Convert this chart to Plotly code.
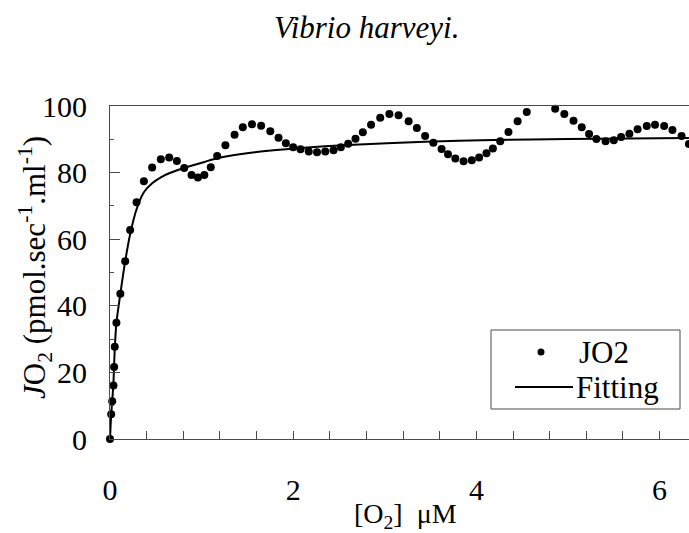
import plotly.graph_objects as go

# Oxygen flux of Vibrio harveyi versus oxygen concentration
o2_um = [0.00, 0.013, 0.024, 0.038, 0.045, 0.052, 0.07, 0.113, 0.166, 0.22,
         0.29, 0.37, 0.46, 0.555, 0.646, 0.73, 0.81, 0.89, 0.96, 1.03,
         1.10, 1.17, 1.26, 1.36, 1.45, 1.55, 1.65, 1.75, 1.84, 1.92,
         2.00, 2.08, 2.17, 2.26, 2.35, 2.44, 2.52, 2.60, 2.68, 2.76,
         2.85, 2.95, 3.05, 3.15, 3.26, 3.35, 3.44, 3.53, 3.62, 3.69,
         3.77, 3.86, 3.95, 4.03, 4.11, 4.18, 4.26, 4.35, 4.45, 4.55,
         4.86, 4.96, 5.06, 5.15, 5.23, 5.31, 5.41, 5.50, 5.58, 5.67,
         5.76, 5.86, 5.95, 6.05, 6.14, 6.24, 6.32]
jo2 = [0, 7.4, 11.3, 16.1, 21.6, 27.7, 34.9, 43.6, 53.4, 62.8,
       71.1, 77.4, 81.5, 84.0, 84.5, 83.5, 81.4, 79.3, 78.5, 79.3,
       81.6, 85.0, 88.2, 91.4, 93.6, 94.5, 94.1, 92.4, 90.5, 88.8,
       87.6, 87.0, 86.3, 86.1, 86.3, 86.7, 87.6, 88.7, 90.2, 92.1,
       94.4, 96.5, 97.6, 97.2, 95.4, 93.4, 91.0, 89.0, 87.1, 85.5,
       84.2, 83.4, 83.7, 84.5, 85.8, 87.2, 89.4, 92.2, 95.4, 98.2,
       99.2, 97.6, 95.6, 93.6, 91.6, 90.1, 89.4, 89.7, 90.7, 91.7,
       93.0, 94.0, 94.4, 94.0, 92.8, 91.0, 88.6]

# Fitted hyperbolic curve, sampled along its length
fit_o2 = [0, 0.013, 0.024, 0.038, 0.05, 0.07, 0.113, 0.166, 0.22, 0.29,
          0.37, 0.46, 0.555, 0.646, 0.81, 1.03, 1.17, 1.58, 2.08, 2.6,
          3.44, 4.18, 5.0, 6.32]
fit_jo2 = [0, 7.4, 11.3, 17.0, 26.0, 34.9, 43.6, 53.4, 61.5, 69.0,
           74.1, 76.8, 78.6, 79.8, 81.4, 83.2, 84.3, 86.1, 87.4, 88.3,
           89.3, 89.8, 90.1, 90.4]

x_ticks = [0, 2, 4, 6]
y_ticks = [0, 20, 40, 60, 80, 100]

SERIF = '"Liberation Serif", serif'
AX = "#4a4a4a"

# plot-area pixel geometry used to place text and the legend box
W, H = 689, 533
L, R, T, B = 110, 0, 106, 94
PW, PH = W - L - R, H - T - B


def px(x):
    return (x - L) / PW


def py(y):
    return (H - B - y) / PH


fig = go.Figure()
fig.add_trace(go.Scatter(
    x=fit_o2, y=fit_jo2, mode="lines", name="Fitting",
    line=dict(color="black", width=2, shape="spline", smoothing=0.6),
    showlegend=False, cliponaxis=False,
))
fig.add_trace(go.Scatter(
    x=o2_um, y=jo2, mode="markers", name="JO2",
    marker=dict(color="black", size=8),
    showlegend=False, cliponaxis=False,
))

fig.update_layout(
    width=W, height=H,
    margin=dict(l=L, r=R, t=T, b=B, pad=0),
    paper_bgcolor="white", plot_bgcolor="white",
    font=dict(family=SERIF, color="black"),
    xaxis=dict(
        range=[0, (W - L - R) / 91.6], showgrid=False, zeroline=False,
        showline=True, linecolor=AX, linewidth=1, mirror=True,
        tickmode="array", tickvals=x_ticks, ticktext=[str(v) for v in x_ticks],
        ticks="inside", ticklen=8, tickcolor=AX, tickwidth=1,
        tickfont=dict(size=30, family=SERIF, color="black"),
        ticklabelstandoff=24,
        minor=dict(dtick=0.4, tick0=0, ticks="inside", ticklen=8,
                   tickcolor=AX, tickwidth=1, showgrid=False),
    ),
    yaxis=dict(
        range=[0, 100], showgrid=False, zeroline=False,
        showline=True, linecolor=AX, linewidth=1, mirror=False,
        tickmode="array", tickvals=y_ticks, ticktext=[str(v) for v in y_ticks],
        ticks="inside", ticklen=10, tickcolor=AX, tickwidth=1,
        tickfont=dict(size=30, family=SERIF, color="black"),
        ticklabelstandoff=16,
        minor=dict(dtick=10, tick0=0, ticks="inside", ticklen=4,
                   tickcolor=AX, tickwidth=1, showgrid=False),
    ),
)

annotations = [
    dict(text="Vibrio harveyi.", x=px(366), y=py(28),
         font=dict(size=31, style="italic")),
    dict(text="[O<sub>2</sub>]&nbsp; μM", x=px(405), y=py(515),
         font=dict(size=28)),
    dict(text="<i>J</i>O<sub>2</sub> (pmol.sec<sup>-1</sup>.ml<sup>-1</sup>)",
         x=px(35), y=py(268), textangle=-90, font=dict(size=31)),
    dict(text="JO2", x=px(577), y=py(352), xanchor="left",
         font=dict(size=31)),
    dict(text="Fitting", x=px(574), y=py(387), xanchor="left",
         font=dict(size=31)),
]
for a in annotations:
    a.setdefault("xanchor", "center")
    a.update(xref="paper", yref="paper", yanchor="middle", showarrow=False)
    a["font"].update(family=SERIF, color="black")
fig.update_layout(annotations=annotations)

# legend frame, marker sample and line sample
fig.update_layout(shapes=[
    dict(type="rect", xref="paper", yref="paper",
         x0=px(491), x1=px(680), y0=py(409), y1=py(330),
         line=dict(color=AX, width=1), fillcolor="white", layer="below"),
    dict(type="circle", xref="paper", yref="paper",
         xsizemode="pixel", ysizemode="pixel",
         xanchor=px(541), yanchor=py(352), x0=-3.5, x1=3.5, y0=-3.5, y1=3.5,
         line=dict(width=0), fillcolor="black"),
    dict(type="line", xref="paper", yref="paper",
         x0=px(515), x1=px(573), y0=py(387), y1=py(387),
         line=dict(color="black", width=2)),
])

fig.write_html("out.html")
